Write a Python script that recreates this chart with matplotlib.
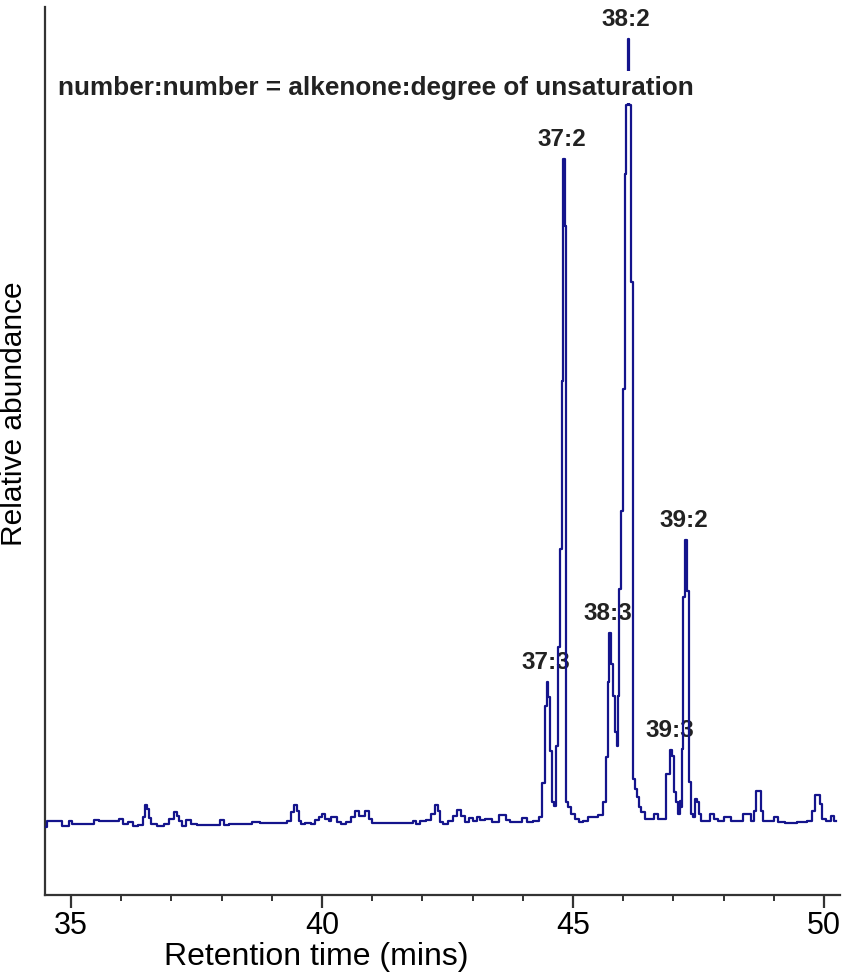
import numpy as np
import matplotlib
matplotlib.use("Agg")
import matplotlib.pyplot as plt
from matplotlib.ticker import MultipleLocator

plt.rcParams['font.family'] = ['Liberation Sans', 'DejaVu Sans']

# chromatogram trace: retention time (mins) and detector response (arbitrary units)
rt = [34.48, 34.54, 34.78, 34.84, 34.94, 34.98, 35.04, 35.38, 35.52, 35.58,
      35.92, 35.98, 36.08, 36.18, 36.27, 36.41, 36.45, 36.51, 36.53, 36.57,
      36.63, 36.81, 36.91, 37.01, 37.07, 37.13, 37.17, 37.23, 37.33, 37.43,
      37.57, 37.93, 38.01, 38.07, 38.21, 38.47, 38.73, 38.80, 39.06, 39.26,
      39.36, 39.42, 39.48, 39.52, 39.56, 39.62, 39.72, 39.82, 39.90, 39.98,
      40.02, 40.10, 40.16, 40.20, 40.26, 40.32, 40.42, 40.52, 40.62, 40.70,
      40.76, 40.82, 40.90, 40.96, 41.02, 41.45, 41.79, 41.85, 41.91, 42.01,
      42.15, 42.21, 42.29, 42.33, 42.39, 42.45, 42.55, 42.65, 42.73, 42.79,
      42.89, 42.95, 43.05, 43.11, 43.19, 43.31, 43.45, 43.61, 43.71, 43.80,
      43.94, 44.04, 44.14, 44.28, 44.36, 44.42, 44.46, 44.50, 44.52, 44.56,
      44.60, 44.64, 44.68, 44.72, 44.76, 44.79, 44.82, 44.85, 44.88, 44.94,
      45.00, 45.08, 45.16, 45.24, 45.34, 45.44, 45.54, 45.64, 45.68, 45.70,
      45.74, 45.78, 45.82, 45.86, 45.88, 45.90, 45.94, 45.98, 46.02, 46.04,
      46.08, 46.10, 46.14, 46.18, 46.22, 46.26, 46.30, 46.33, 46.39, 46.47,
      46.57, 46.65, 46.73, 46.81, 46.89, 46.97, 46.99, 47.03, 47.07, 47.11,
      47.15, 47.17, 47.19, 47.21, 47.25, 47.29, 47.33, 47.37, 47.41, 47.45,
      47.49, 47.53, 47.59, 47.67, 47.79, 47.85, 47.93, 48.09, 48.19, 48.33,
      48.43, 48.51, 48.57, 48.63, 48.67, 48.73, 48.76, 48.82, 48.96, 49.04,
      49.12, 49.32, 49.62, 49.72, 49.80, 49.84, 49.90, 49.94, 49.98, 50.12,
      50.18, 50.24]
signal = [-5, 1, 1, -4, -4, 1, -2, -2, 2, 1,
          1, 3, -2, 0, -4, -3, 5, 17, 13, 4,
          -2, -4, -2, 3, 10, 6, 1, -4, 2, -2,
          -3, -3, 2, -3, -2, -2, 0, -1, -1, -1,
          1, 10, 17, 11, 1, -2, -1, -2, 2, 5,
          8, 3, 1, 5, 5, 0, -2, 0, 5, 11,
          6, 6, 11, 3, -1, -1, -1, 1, -2, 1,
          2, 8, 17, 11, 0, -2, 1, 6, 12, 6,
          0, 4, 1, 5, 2, 3, 0, 7, 2, 0,
          0, 4, 0, 1, 5, 39, 116, 140, 125, 71,
          20, 16, 76, 175, 273, 441, 663, 596, 20, 15,
          8, 3, 0, 1, 5, 5, 7, 20, 65, 140,
          189, 158, 126, 90, 76, 126, 233, 311, 433, 648,
          717, 783, 717, 540, 43, 33, 25, 15, 10, 3,
          3, 8, 3, 3, 48, 72, 66, 30, 20, 8,
          21, 15, 73, 225, 282, 231, 40, 8, 5, 23,
          20, 8, 1, 1, 8, 3, 1, 5, 1, 1,
          8, 8, 1, 11, 31, 31, 11, 1, 1, 5,
          0, -1, 0, 1, 11, 27, 27, 18, 3, 1,
          6, 1]

# alkenone peaks (chain length : degree of unsaturation) and where they elute
peak_names = ['37:3', '37:2', '38:3', '38:2', '39:3', '39:2']
peak_rt = [44.50, 44.82, 45.74, 46.10, 46.97, 47.25]

rt = np.array(rt)
abundance = np.array(signal) / max(signal) * 100

fig = plt.figure(figsize=(8.45, 9.78), dpi=100)
ax = fig.add_axes([0.0533, 0.0838, 0.9407, 0.908])

ax.plot(rt, abundance, color='#14148c', lw=1.6, drawstyle='steps-mid', zorder=3)

for name, t0 in zip(peak_names, peak_rt):
    win = np.abs(rt - t0) < 0.05
    i = np.flatnonzero(win)[np.argmax(abundance[win])]
    ax.annotate(name, (rt[i], abundance[i]), xytext=(-2, 9),
                textcoords='offset pixels', ha='center', va='bottom',
                fontsize=17.5, fontweight='bold', color='#222222', zorder=2)

ax.text(0.016, 0.91, 'number:number = alkenone:degree of unsaturation',
        transform=ax.transAxes, ha='left', va='center', fontsize=18.8,
        fontweight='bold', color='#222222', zorder=4,
        bbox=dict(facecolor='white', edgecolor='none', pad=3))

ax.set_xlim(34.48, 50.32)
ax.set_ylim(-9.3, 104.1)

for side in ['top', 'right']:
    ax.spines[side].set_visible(False)
for side in ['left', 'bottom']:
    ax.spines[side].set_linewidth(1.6)
    ax.spines[side].set_color('#333333')

ax.xaxis.set_major_locator(MultipleLocator(5))
ax.xaxis.set_minor_locator(MultipleLocator(1))
ax.tick_params(axis='x', which='major', length=9, width=1.6, color='#333333',
               labelsize=22, pad=2)
ax.tick_params(axis='x', which='minor', length=4, width=1.4, color='#333333')
ax.set_yticks([])

ax.set_xlabel('Retention time (mins)', fontsize=23, labelpad=-2)
ax.xaxis.set_label_coords(0.341, -0.052)
ax.set_ylabel('Relative abundance', fontsize=21.5)
ax.yaxis.set_label_coords(-0.022, 0.543)

fig.savefig('out.png', dpi=100)
